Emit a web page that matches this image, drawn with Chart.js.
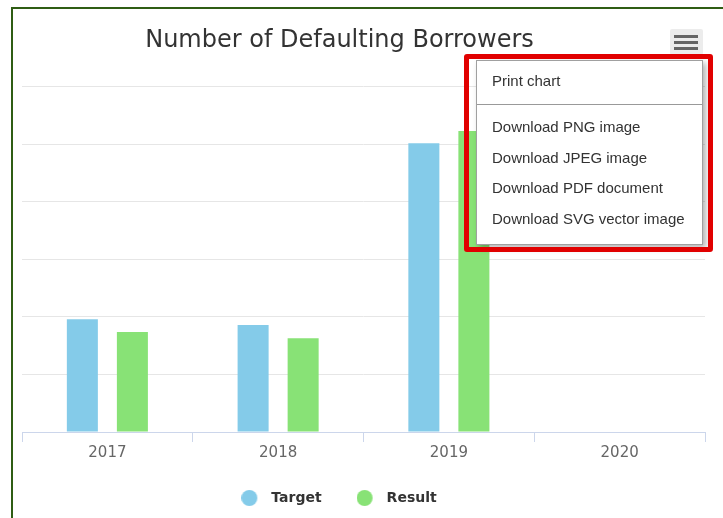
<!DOCTYPE html>
<html>
<head>
<meta charset="utf-8">
<script src="https://cdn.jsdelivr.net/npm/chart.js@4"></script>
<style>
    html, body { margin: 0; padding: 0; background: #fff; overflow: hidden; }
    body { width: 723px; height: 518px; position: relative; font-family: "Liberation Sans", Arial, sans-serif; }
    #chart { position: absolute; left: 0; top: 0; }
    .frame { position: absolute; left: 11px; top: 7px; right: -10px; bottom: -10px;
             border-left: 2px solid #2f5d14; border-top: 2px solid #2f5d14; }
    .menu-btn { position: absolute; left: 670px; top: 29px; width: 33px; height: 26px; background: #ececec; border-radius: 2px; }
    .menu-btn span { position: absolute; left: 4px; width: 24px; height: 3px; background: #666; }
    .menu { position: absolute; left: 476px; top: 60px; width: 227px; height: 185px; background: #fff;
            border: 1px solid #a0a0a0; box-sizing: border-box; box-shadow: 3px 3px 6px rgba(0,0,0,0.3); }
    .menu div { padding-left: 15px; font-size: 15px; color: #333; height: 30.7px; line-height: 30.7px; white-space: nowrap; }
    .menu .first { height: 43px; line-height: 40px; border-bottom: 1px solid #999; margin-bottom: 7px; }
    .highlight { position: absolute; left: 464px; top: 54px; width: 249px; height: 198px; box-sizing: border-box;
                 border: 5px solid #e10000; border-radius: 3px; }
</style>
</head>
<body>
<canvas id="chart" width="723" height="518"></canvas>
<div class="frame"></div>
<div class="menu-btn"><span style="top:6px"></span><span style="top:12px"></span><span style="top:18px"></span></div>
<div class="menu">
    <div class="first">Print chart</div>
    <div>Download PNG image</div>
    <div>Download JPEG image</div>
    <div>Download PDF document</div>
    <div>Download SVG vector image</div>
</div>
<div class="highlight"></div>
<script>
// data (one grid line = 10)
const years = ['2017', '2018', '2019', '2020'];
const targetValues = [19.6, 18.6, 50.2, null];
const resultValues = [17.4, 16.3, 52.3, null];
const seriesColors = ['#84cbe9', '#88e276'];

Chart.defaults.font.family = '"DejaVu Sans", Verdana, sans-serif';

// legend dot: a circle sitting a little left of the label box, so the text gets more room
function legendDot(color) {
    const c = document.createElement('canvas');
    c.width = 32;
    c.height = 16;
    const g = c.getContext('2d');
    g.fillStyle = color;
    g.beginPath();
    g.arc(8, 8, 8, 0, Math.PI * 2);
    g.fill();
    return c;
}
const dots = seriesColors.map(legendDot);

// title and legend sit a bit left of the canvas centre in the original,
// and the legend's wide padding would push it too low
const shiftCenter = {
    id: 'shiftCenter',
    afterLayout(chart) {
        chart.titleBlock.left -= 24;
        chart.titleBlock.right -= 24;
        chart.legend.left -= 20;
        chart.legend.right -= 20;
        chart.legend.top -= 17;
        chart.legend.bottom -= 17;
    }
};

const ctx = document.getElementById('chart').getContext('2d');
new Chart(ctx, {
    type: 'bar',
    data: {
        labels: years,
        datasets: [
            { label: 'Target', data: targetValues, backgroundColor: seriesColors[0] },
            { label: 'Result', data: resultValues, backgroundColor: seriesColors[1] }
        ]
    },
    options: {
        responsive: false,
        animation: false,
        categoryPercentage: 0.586,
        barPercentage: 0.62,
        layout: { padding: { left: 22, right: 18, top: 0, bottom: -14 } },
        plugins: {
            title: {
                display: true,
                text: 'Number of Defaulting Borrowers',
                color: '#333333',
                font: { size: 24, weight: 'normal' },
                padding: { top: 26, bottom: 32 }
            },
            legend: {
                position: 'bottom',
                labels: {
                    usePointStyle: true,
                    boxWidth: 14,
                    boxHeight: 14,
                    padding: 44,
                    color: '#333333',
                    font: { size: 14, weight: 'bold' },
                    generateLabels(chart) {
                        const items = Chart.defaults.plugins.legend.labels.generateLabels(chart);
                        items.forEach((item, i) => { item.pointStyle = dots[i]; });
                        return items;
                    }
                }
            },
            tooltip: { enabled: false }
        },
        scales: {
            x: {
                grid: { offset: true, drawOnChartArea: false, tickLength: 10, color: '#ccd6eb' },
                border: { color: '#ccd6eb' },
                ticks: { color: '#666666', font: { size: 15 }, padding: 2 }
            },
            y: {
                min: 0,
                max: 60,
                ticks: { display: false, stepSize: 10 },
                grid: { color: '#e6e6e6', drawTicks: false },
                border: { display: false }
            }
        }
    },
    plugins: [shiftCenter]
});
</script>
</body>
</html>
